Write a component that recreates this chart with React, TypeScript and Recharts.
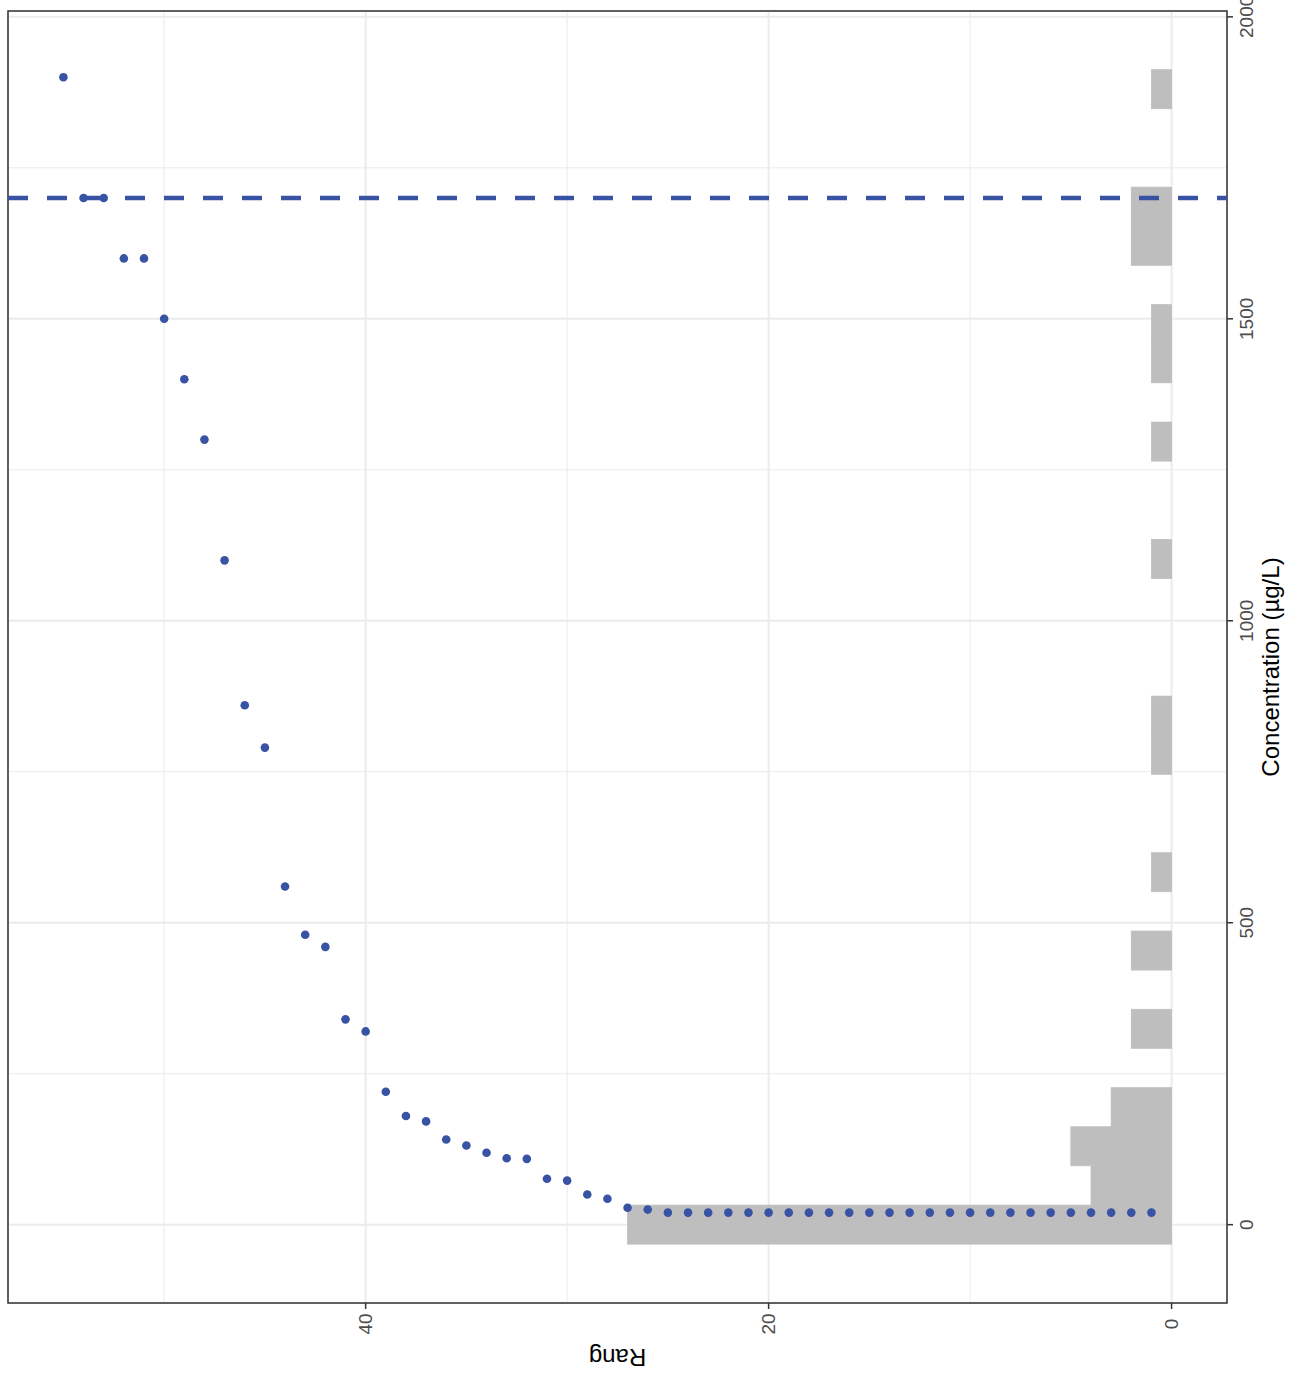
import React from 'react';
import {
  ComposedChart,
  Bar,
  Scatter,
  XAxis,
  YAxis,
  CartesianGrid,
  ReferenceLine,
  ReferenceArea,
} from 'recharts';

// concentrations (µg/L), sorted, one per rank
const concentrations = [
  20, 20, 20, 20, 20, 20, 20, 20, 20, 20,
  20, 20, 20, 20, 20, 20, 20, 20, 20, 20,
  20, 20, 20, 20, 20, 25, 28, 43, 50, 73,
  76, 109, 110, 119, 131, 141, 171, 180, 220, 320,
  340, 460, 480, 560, 790, 860, 1100, 1300, 1400, 1500,
  1600, 1600, 1700, 1700, 1900,
];
const rangs = concentrations.map((_, i) => i + 1);

// histogram (30 bins)
const binCenters = [
  0, 64.8, 129.7, 194.5, 259.3, 324.2, 389, 453.8, 518.6, 583.5,
  648.3, 713.1, 778, 842.8, 907.6, 972.5, 1037.3, 1102.1, 1166.9, 1231.8,
  1296.6, 1361.4, 1426.3, 1491.1, 1555.9, 1620.8, 1685.6, 1750.4, 1815.2, 1880.1,
];
const binCounts = [
  27, 4, 5, 3, 0, 2, 0, 2, 0, 1,
  0, 0, 1, 1, 0, 0, 0, 1, 0, 0,
  1, 0, 1, 1, 0, 2, 2, 0, 0, 1,
];

const concTicks = [0, 500, 1000, 1500, 2000];
const concMinor = [250, 750, 1250, 1750];
const rangTicks = [0, 20, 40];
const rangMinor = [10, 30, 50];
const threshold = 1700;

const concDomain = [-129.7, 2009.7];
const rangDomain = [-2.75, 57.75];

const FONT = '"Liberation Sans", Arial, Helvetica, sans-serif';
const BLUE = '#3953A4';
const GREY = '#BEBEBE';

function BottomTick(props: any) {
  const { x, y, payload } = props;
  return (
    <text
      transform={`translate(${x},${y + 13}) rotate(-90)`}
      textAnchor="middle"
      dy="0.35em"
      fontSize={19}
      fontFamily={FONT}
      fill="#4D4D4D"
    >
      {payload.value}
    </text>
  );
}

function RightTick(props: any) {
  const { x, y, payload } = props;
  return (
    <text
      transform={`translate(${x + 11},${y}) rotate(-90)`}
      textAnchor="middle"
      dy="0.35em"
      fontSize={19}
      fontFamily={FONT}
      fill="#4D4D4D"
    >
      {payload.value}
    </text>
  );
}

function RangTitle(props: any) {
  const vb = props.viewBox;
  return (
    <text
      transform={`translate(${vb.x + vb.width / 2},${vb.y + 52}) rotate(180)`}
      textAnchor="middle"
      dy="0.25em"
      fontSize={24}
      fontFamily={FONT}
      fill="#000"
    >
      Rang
    </text>
  );
}

function ConcTitle(props: any) {
  const vb = props.viewBox;
  return (
    <text
      transform={`translate(${vb.x + 46},${vb.y + vb.height / 2 + 10}) rotate(-90)`}
      textAnchor="middle"
      dy="0.26em"
      fontSize={24}
      fontFamily={FONT}
      fill="#000"
    >
      Concentration (µg/L)
    </text>
  );
}

const Dot = (p: any) => <circle cx={p.cx} cy={p.cy} r={4.3} fill={BLUE} />;

// histogram bar; a thin same-colour stroke hides seams between adjacent bins
const BinRect = (p: any) => {
  if (!p.width || !p.height) return <g />;
  const x = Math.min(p.x, p.x + p.width);
  const y = Math.min(p.y, p.y + p.height);
  return (
    <rect
      x={x}
      y={y}
      width={Math.abs(p.width)}
      height={Math.abs(p.height)}
      fill={GREY}
      stroke={GREY}
      strokeWidth={0.8}
    />
  );
};

export default function App() {
  const bins = binCenters.map((c, i) => ({ y: c, x: binCounts[i] }));
  const points = concentrations.map((c, i) => ({ x: rangs[i], y: c }));

  return (
    <div style={{ position: 'absolute', left: 0, top: 0, background: '#fff' }}>
      <ComposedChart
        width={1292}
        height={1380}
        layout="vertical"
        data={bins}
        margin={{ top: 11, right: 0, bottom: 0, left: 8 }}
        barCategoryGap={0}
        barGap={0}
      >
        {/* minor grid */}
        <CartesianGrid
          stroke="#EBEBEB"
          strokeWidth={1}
          verticalValues={rangMinor}
          horizontalValues={concMinor}
        />
        {/* major grid */}
        <CartesianGrid stroke="#EBEBEB" strokeWidth={2} />
        <XAxis
          type="number"
          dataKey="x"
          domain={rangDomain}
          reversed
          allowDataOverflow
          ticks={rangTicks}
          axisLine={false}
          tickLine={{ stroke: '#333333', strokeWidth: 1.5 }}
          tickSize={6}
          height={77}
          tick={<BottomTick />}
          label={{ content: <RangTitle /> }}
        />
        <YAxis
          type="number"
          dataKey="y"
          orientation="right"
          width={65}
          domain={concDomain}
          reversed
          allowDataOverflow
          ticks={concTicks}
          axisLine={false}
          tickLine={{ stroke: '#333333', strokeWidth: 1.5 }}
          tickSize={6}
          tick={<RightTick />}
          label={{ content: <ConcTitle /> }}
        />
        <YAxis
          yAxisId="pts"
          type="number"
          dataKey="y"
          hide
          reversed
          domain={concDomain}
          allowDataOverflow
        />
        <Bar dataKey="x" fill={GREY} shape={BinRect} isAnimationActive={false} />
        <Scatter yAxisId="pts" data={points} fill={BLUE} shape={Dot} isAnimationActive={false} />
        <ReferenceLine
          yAxisId="pts"
          y={threshold}
          stroke={BLUE}
          strokeWidth={4.5}
          strokeDasharray="20 19"
        />
        <ReferenceArea
          x1={rangDomain[0]}
          x2={rangDomain[1]}
          y1={concDomain[0]}
          y2={concDomain[1]}
          fill="none"
          fillOpacity={0}
          stroke="#333333"
          strokeWidth={1.5}
        />
      </ComposedChart>
    </div>
  );
}
